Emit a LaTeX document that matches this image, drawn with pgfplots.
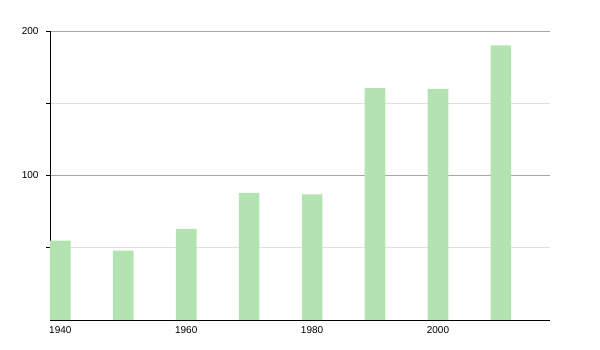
\documentclass[border=0pt]{standalone}
\usepackage{pgfplots}
\pgfplotsset{compat=1.18}
\usepackage{fontspec}
\setmainfont{Liberation Sans}
\definecolor{barg}{RGB}{179,227,176}
\begin{document}
\begin{tikzpicture}[x=1pt,y=1pt]
\begin{axis}[
  scale only axis,
  width=500pt, height=289pt,
  xmin=1938.36, xmax=2017.8,
  ymin=0, ymax=200,
  axis x line=bottom, axis y line=left,
  axis line style={black, line width=0.8pt, -},
  xtick={1940,1960,1980,2000},
  ytick={100,200},
  minor ytick={50,150},
  ymajorgrids, yminorgrids,
  major grid style={gray!70, line width=0.6pt},
  minor grid style={gray!25, line width=0.6pt},
  xtick style={draw=none},
  ytick style={black, line width=0.6pt},
  minor tick length=4pt, major tick length=4pt,
  tick align=outside,
  every tick label/.style={font=\fontsize{10}{11}\selectfont},
  /pgf/number format/assume math mode=true,
  /pgf/number format/1000 sep={},
  yticklabel style={xshift=-4pt},
  xticklabel style={yshift=1pt},
  ybar, bar width=3.28,
]
\addplot[fill=barg, draw=none] coordinates {
  (1940,55) (1950,48) (1960,63) (1970,88) (1980,87) (1990,160.5) (2000,160) (2010,190)
};
\end{axis}
\path[use as bounding box] (-50pt,-30pt) rectangle (550pt,320pt);
\end{tikzpicture}
\end{document}
